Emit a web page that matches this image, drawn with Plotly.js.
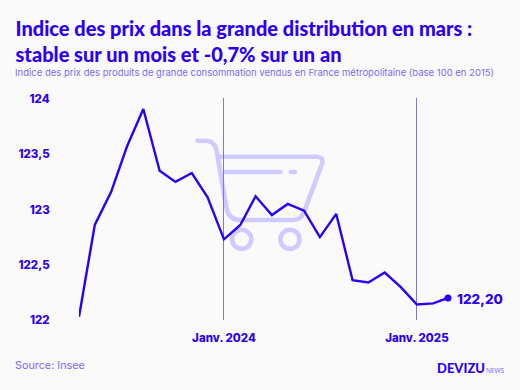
<!DOCTYPE html>
<html><head><meta charset="utf-8">
<script src="https://cdn.plot.ly/plotly-3.0.0.min.js"></script>
<style>html,body{margin:0;padding:0;background:#fafafa}
#c .shapelayer path{stroke-linecap:round;stroke-linejoin:round}</style>
</head><body><div id="c" style="width:520px;height:390px"></div>
<script>
const months = ["2023-04-01","2023-05-01","2023-06-01","2023-07-01","2023-08-01","2023-09-01","2023-10-01","2023-11-01","2023-12-01","2024-01-01","2024-02-01","2024-03-01","2024-04-01","2024-05-01","2024-06-01","2024-07-01","2024-08-01","2024-09-01","2024-10-01","2024-11-01","2024-12-01","2025-01-01","2025-02-01","2025-03-01"];
const indexValues = [122.03,122.86,123.16,123.57,123.91,123.35,123.25,123.33,123.11,122.73,122.86,123.12,122.95,123.05,122.99,122.75,122.96,122.36,122.34,122.43,122.30,122.14,122.15,122.20];
const yTickVals = [122,122.5,123,123.5,124];
const yTickText = ["122","122,5","123","123,5","124"];
const xTickVals = ["2024-01-01","2025-01-01"];
const xTickText = ["Janv. 2024","Janv. 2025"];
const lastLabel = "122,20";

const W=520,H=390,L=79,R=448,T=98,B=320;
const INK="#2d00f5",SOFT="#7a6bf8",CART="#cfcaff",FONT="Inter, 'Noto Sans', sans-serif";
const px=x=>((x-L)/(R-L)).toFixed(4), py=y=>((B-y)/(B-T)).toFixed(4);
const cartLine={color:CART,width:4.6};
const P=(s)=>s.replace(/(-?[\d.]+),(-?[\d.]+)/g,(m,a,b)=>px(+a)+","+py(+b));
const shape=(path)=>({type:"path",xref:"paper",yref:"paper",path:P(path),line:cartLine,layer:"below"});
const wheel=(cx,cy,r)=>({type:"circle",xref:"paper",yref:"paper",x0:px(cx-r),x1:px(cx+r),y0:py(cy+r),y1:py(cy-r),line:cartLine,layer:"below"});
const shapes=[
 shape("M197.5,140.7 L206,140.7 Q214.5,140.7 216.5,150 L226.5,208 Q229,220 240,220 L293,220 Q301,220 304,212 L322,164 Q324,156.7 316,156.7 L218,156.7"),
 shape("M225.5,172 L280.5,172"),
 shape("M291,172 L295,172"),
 wheel(241.7,239.3,9.6),wheel(290,239.3,9.6)
];
const txt=(x,y,text,size,color,weight,anchor,family)=>({xref:"paper",yref:"paper",x:px(x),y:py(y),text,showarrow:false,xanchor:anchor||"left",yanchor:"middle",font:{family:family||FONT,size,color,weight:weight||400}});

const data=[
 {type:"scatter",mode:"lines",x:months,y:indexValues,line:{color:INK,width:2.4,shape:"linear"},cliponaxis:false,hoverinfo:"skip"},
 {type:"scatter",mode:"markers",x:months.slice(-1),y:indexValues.slice(-1),marker:{color:INK,size:7},cliponaxis:false,hoverinfo:"skip"}
];
const layout={
 width:W,height:H,showlegend:false,paper_bgcolor:"#fafafa",plot_bgcolor:"#fafafa",
 margin:{l:L,r:W-R,t:T,b:H-B,pad:0},
 title:{text:"Indice des prix dans la grande distribution en mars :<br>stable sur un mois et -0,7% sur un an",x:15.5/W,xanchor:"left",y:1-36/H,yanchor:"top",font:{family:"Lato, Inter, sans-serif",size:20,color:INK,weight:900}},
 xaxis:{type:"date",range:["2023-04-01","2025-03-01"],tickmode:"array",tickvals:xTickVals,ticktext:xTickText,tickangle:0,showgrid:true,gridcolor:"#7f74f0",gridwidth:1,zeroline:false,showline:false,ticks:"outside",ticklen:7,tickcolor:"rgba(0,0,0,0)",tickfont:{family:FONT,size:11.5,color:INK,weight:800}},
 yaxis:{range:[122,124+1/110],tickmode:"array",tickvals:yTickVals,ticktext:yTickText,showgrid:false,zeroline:false,showline:false,ticks:"outside",ticklen:26,tickcolor:"rgba(0,0,0,0)",tickfont:{family:FONT,size:11.5,color:INK,weight:800}},
 shapes,
 annotations:[
  txt(13,72,"Indice des prix des produits de grande consommation vendus en France métropolitaine (base 100 en 2015)",9.5,SOFT),
  txt(13,366,"Source: Insee",10.8,SOFT),
  txt(455,299,lastLabel,13.5,INK,800),
  txt(435.5,368,"DEVIZU",13,INK,900,"left","Lato, Inter, sans-serif"),
  txt(484,370.5,"NEWS",6.5,SOFT,400,"left","'Noto Sans', sans-serif")
 ]
};
Plotly.newPlot("c",data,layout,{displayModeBar:false,staticPlot:true});
</script></body></html>
